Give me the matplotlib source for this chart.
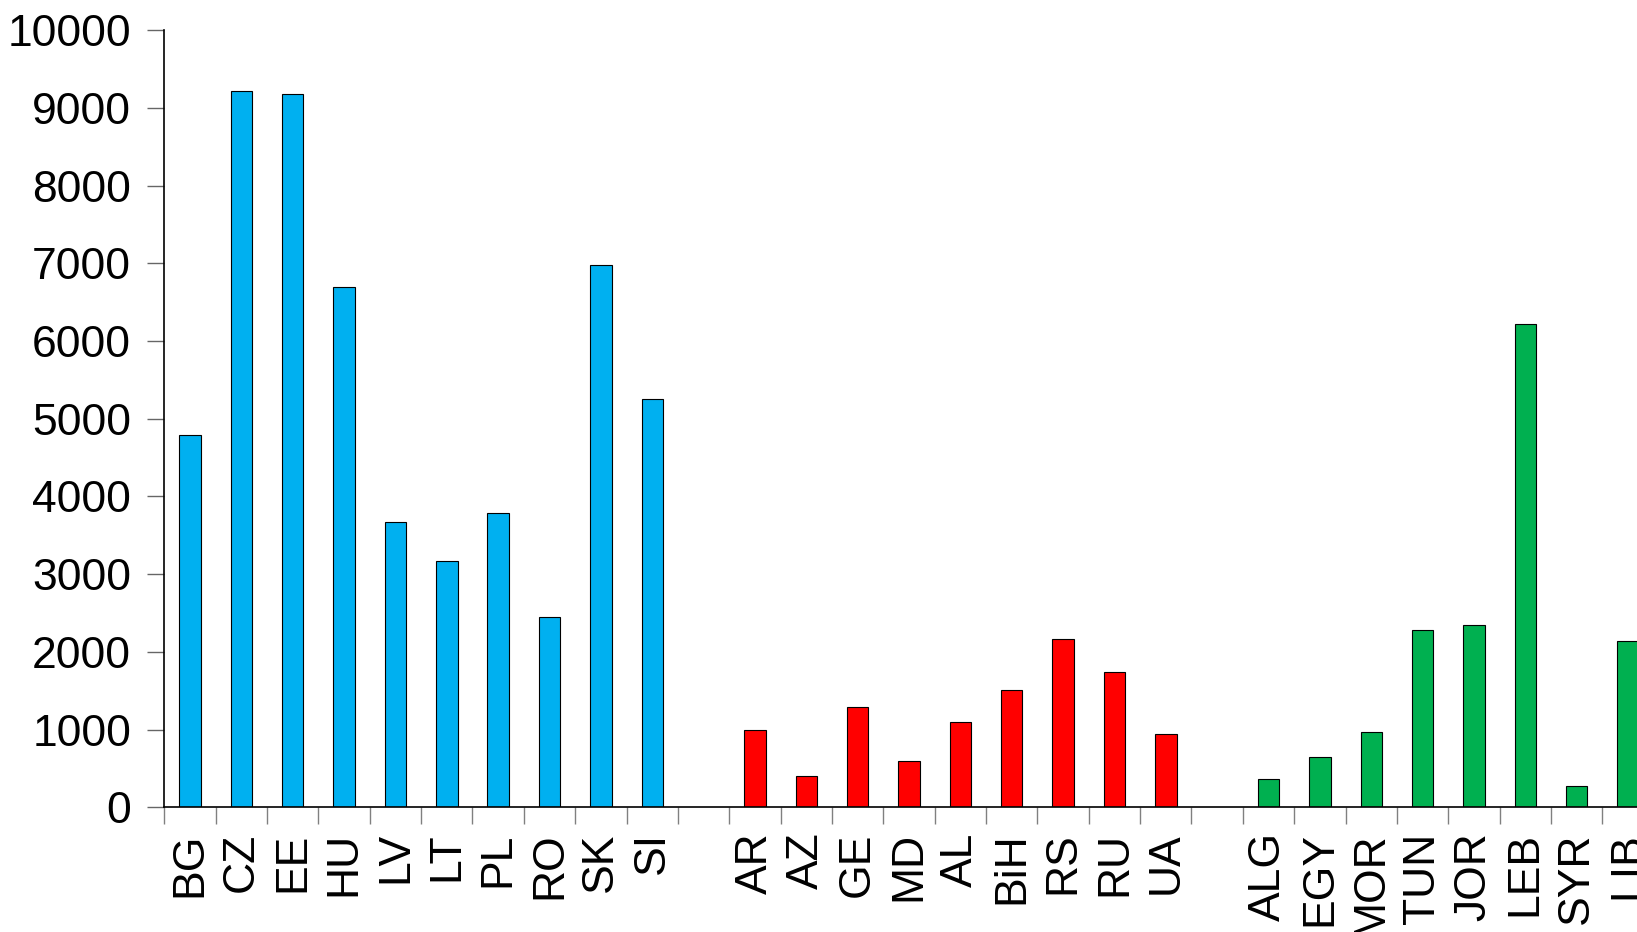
import matplotlib.pyplot as plt
import numpy as np

plt.rcParams['font.family'] = ['Liberation Sans', 'DejaVu Sans']

# three groups of countries, separated by one empty slot each
cee = ['BG', 'CZ', 'EE', 'HU', 'LV', 'LT', 'PL', 'RO', 'SK', 'SI']
cee_vals = [4790, 9220, 9180, 6690, 3670, 3172, 3790, 2446, 6976, 5255]

east = ['AR', 'AZ', 'GE', 'MD', 'AL', 'BiH', 'RS', 'RU', 'UA']
east_vals = [995, 403, 1290, 591, 1102, 1505, 2164, 1747, 941]

med = ['ALG', 'EGY', 'MOR', 'TUN', 'JOR', 'LEB', 'SYR', 'LIB']
med_vals = [365, 648, 966, 2288, 2348, 6223, 270, 2142]

colors = ['#00B0F0', '#FF0000', '#00B050']

fig = plt.figure(figsize=(16.37, 9.32), dpi=100)
# axes runs slightly past the right edge, like the cropped original
ax = fig.add_axes([0.1004, 0.1338, 0.9098, 0.8337])

labels = []
pos = 0
for names, vals, col in [(cee, cee_vals, colors[0]), (east, east_vals, colors[1]), (med, med_vals, colors[2])]:
    x = np.arange(pos, pos + len(names)) + 0.5
    ax.bar(x, vals, width=0.417, color=col, edgecolor='black', linewidth=0.8, zorder=2)
    labels.extend(zip(x, names))
    pos += len(names) + 1

ax.set_xlim(0, pos - 1)
ax.set_ylim(0, 10000)
ax.set_yticks(np.arange(0, 10001, 1000))

ax.set_xticks([p for p, _ in labels])
ax.set_xticklabels([n for _, n in labels], rotation=90)
ax.set_xticks(np.arange(0, pos), minor=True)

ax.tick_params(axis='y', labelsize=32, length=12, width=1, color='#666666', pad=12)
ax.tick_params(axis='x', which='major', labelsize=32, length=0, pad=18)
ax.tick_params(axis='x', which='minor', length=12, width=1, color='#808080')

for s in ['top', 'right']:
    ax.spines[s].set_visible(False)
for s in ['left', 'bottom']:
    ax.spines[s].set_linewidth(1.2)
    ax.spines[s].set_color('black')

fig.savefig('out.png', dpi=100)
